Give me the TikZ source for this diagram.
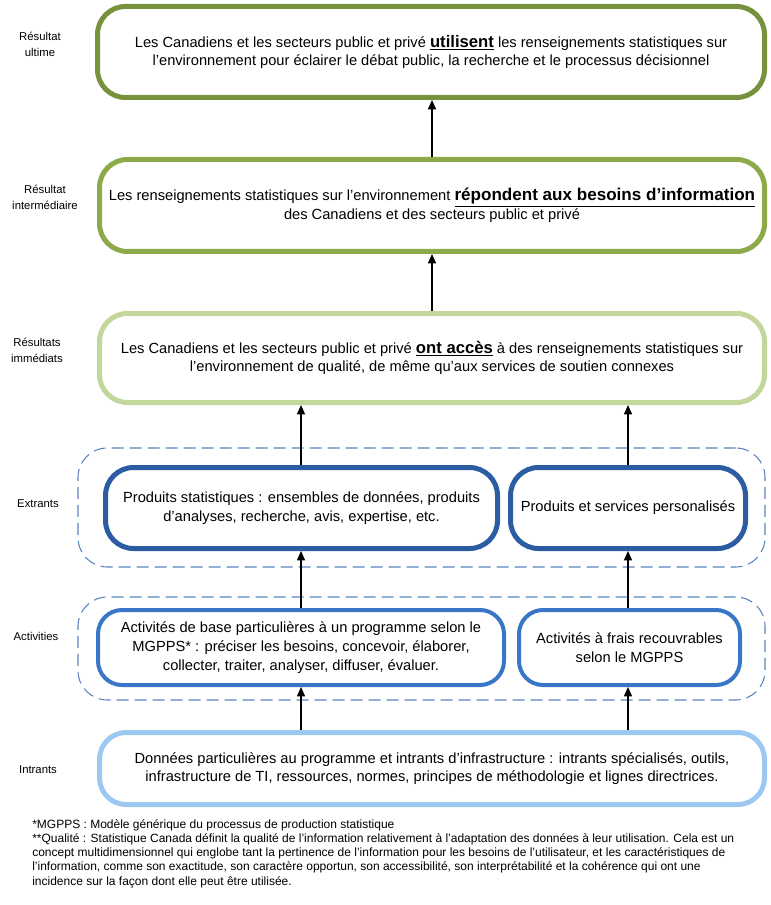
\documentclass[tikz,border=0pt]{standalone}
\usepackage{fontspec}
\setmainfont{Liberation Sans}
\usetikzlibrary{arrows.meta}
\definecolor{cUlt}{HTML}{76923C}
\definecolor{cInt}{HTML}{8DAA4B}
\definecolor{cImm}{HTML}{C3D69B}
\definecolor{cExt}{HTML}{2C5DA3}
\definecolor{cAct}{HTML}{3A76C8}
\definecolor{cInp}{HTML}{9CC8F2}
\definecolor{cDash}{HTML}{5A84C0}
\newcommand{\bigu}[2]{\underline{\fontsize{#1}{14}\selectfont\bfseries #2}}
\begin{document}
\begin{tikzpicture}[x=0.75pt,y=-0.75pt,
  box/.style={draw, rounded corners=21pt, align=center, inner sep=0pt,
    font=\fontsize{11}{14}\selectfont},
  lbl/.style={align=center, font=\fontsize{8.5}{12}\selectfont},
  grp/.style={draw=cDash, line width=0.8pt, dash pattern=on 9pt off 4.5pt, rounded corners=22pt},
  arr/.style={line width=1.1pt, -{Triangle[length=7pt,width=6pt]}}]
\useasboundingbox (0,0) rectangle (770,905);
% dashed groups
\node[grp, minimum width=515.25pt, minimum height=89.25pt] (gExt) at (421.5,507.5) {};
\node[grp, minimum width=515.25pt, minimum height=77.25pt] (gAct) at (421.5,648.5) {};
% main boxes
\node[box, draw=cUlt, line width=3.75pt, minimum width=500.25pt, minimum height=68.25pt] (b1) at (431,52)
 {Les Canadiens et les secteurs public et privé \bigu{12.5}{utilisent} les renseignements statistiques sur\\
  l’environnement pour éclairer le débat public, la recherche et le processus décisionnel};
\node[box, draw=cInt, line width=3.75pt, minimum width=498.75pt, minimum height=69pt] (b2) at (432,205.5)
 {Les renseignements statistiques sur l’environnement \bigu{12.8}{répondent aux besoins d’information}\\
  des Canadiens et des secteurs public et privé};
\node[box, draw=cImm, line width=3.75pt, minimum width=498.75pt, minimum height=66.75pt] (b3) at (432,358)
 {Les Canadiens et les secteurs public et privé \bigu{12.5}{ont accès} à des renseignements statistiques sur\\
  l’environnement de qualité, de même qu'aux services de soutien connexes};
\node[box, draw=cExt, line width=3.75pt, minimum width=294pt, minimum height=60.75pt] (eL) at (301.5,508)
 {Produits statistiques : ensembles de données, produits\\ d’analyses, recherche, avis, expertise, etc.};
\node[box, draw=cExt, line width=3.75pt, minimum width=176.25pt, minimum height=60.75pt] (eR) at (628,508)
 {Produits et services personalisés};
\node[box, draw=cAct, line width=3pt, minimum width=304.5pt, minimum height=56.25pt, rounded corners=18pt] (aL) at (301,647.5)
 {Activités de base particulières à un programme selon le\\ MGPPS* : préciser les besoins, concevoir, élaborer,\\ collecter, traiter, analyser, diffuser, évaluer.};
\node[box, draw=cAct, line width=3pt, minimum width=165.75pt, minimum height=56.25pt, rounded corners=18pt] (aR) at (629.5,647.5)
 {Activités à frais recouvrables\\ selon le MGPPS};
\node[box, draw=cInp, line width=3.75pt, minimum width=498.75pt, minimum height=54pt, rounded corners=20pt] (iN) at (432,768.5)
 {Données particulières au programme et intrants d’infrastructure : intrants spécialisés, outils,\\
  infrastructure de TI, ressources, normes, principes de méthodologie et lignes directrices.};
% side labels
\node[lbl] (l1) at (40,44) {Résultat\\ ultime};
\node[lbl] (l2) at (45,197) {Résultat\\ intermédiaire};
\node[lbl] (l3) at (37,350) {Résultats\\ immédiats};
\node[lbl] (l4) at (38,504) {Extrants};
\node[lbl] (l5) at (36,636) {Activities};
\node[lbl] (l6) at (38,770) {Intrants};
% arrows
\draw[arr] (b2.north -| 432,0) -- (b1.south -| 432,0);
\draw[arr] (b3.north -| 432,0) -- (b2.south -| 432,0);
\draw[arr] (eL.north -| 301,0) -- (b3.south -| 301,0);
\draw[arr] (eR.north -| 628,0) -- (b3.south -| 628,0);
\draw[arr] (aL.north -| 301,0) -- (eL.south -| 301,0);
\draw[arr] (aR.north -| 628,0) -- (eR.south -| 628,0);
\draw[arr] (iN.north -| 301,0) -- (aL.south -| 301,0);
\draw[arr] (iN.north -| 628,0) -- (aR.south -| 628,0);
% footnotes
\node[anchor=north west, align=left, inner sep=0pt, font=\fontsize{9}{10.7}\selectfont] (fn) at (32,819)
 {*MGPPS : Modèle générique du processus de production statistique\\
  **Qualité : Statistique Canada définit la qualité de l’information relativement à l’adaptation des données à leur utilisation. Cela est un\\
  concept multidimensionnel qui englobe tant la pertinence de l’information pour les besoins de l’utilisateur, et les caractéristiques de\\
  l’information, comme son exactitude, son caractère opportun, son accessibilité, son interprétabilité et la cohérence qui ont une\\
  incidence sur la façon dont elle peut être utilisée.};
\end{tikzpicture}
\end{document}
